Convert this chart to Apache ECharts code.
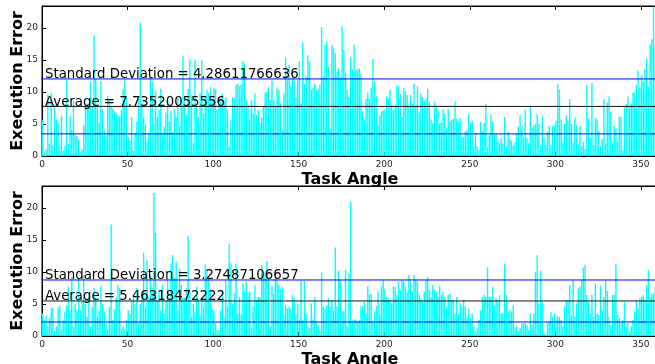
<!DOCTYPE html>
<html>
<head>
<meta charset="utf-8">
<script src="https://cdn.jsdelivr.net/npm/echarts@6/dist/echarts.min.js"></script>
<style>
  html, body { margin: 0; padding: 0; background: #fff; }
  #main { width: 655px; height: 364px; }
</style>
</head>
<body>
<div id="main"></div>
<script>
// execution error per task angle (0..360 deg)
var topErr = [
  5.6, 0.5, 1.0, 9.6, 1.9, 9.8, 1.6, 8.0, 5.6, 5.2,
  0.9, 6.3, 0.8, 1.6, 11.8, 1.9, 6.2, 4.1, 8.6, 3.3,
  3.1, 2.6, 0.6, 1.0, 4.8, 7.8, 8.1, 7.6, 11.6, 7.7,
  18.8, 12.1, 7.9, 5.2, 11.7, 7.3, 4.0, 3.2, 9.4, 8.9,
  7.8, 7.4, 7.0, 6.7, 6.4, 6.2, 7.1, 10.5, 11.8, 9.3,
  3.0, 2.4, 6.1, 0.8, 3.5, 5.3, 9.0, 20.8, 8.2, 6.0,
  4.8, 2.2, 3.5, 12.1, 11.6, 5.0, 10.2, 6.1, 7.2, 10.5,
  3.5, 4.6, 6.8, 8.7, 5.3, 7.0, 3.7, 7.3, 6.1, 9.1,
  4.6, 8.0, 15.6, 8.7, 6.5, 10.5, 15.0, 9.5, 2.0, 15.0,
  7.7, 6.1, 9.8, 15.0, 6.6, 9.2, 10.3, 9.8, 10.7, 8.7,
  10.7, 10.5, 7.2, 9.2, 8.7, 9.7, 8.6, 9.2, 7.2, 1.5,
  5.6, 9.2, 9.0, 11.1, 11.3, 10.9, 11.1, 14.8, 14.4, 8.8,
  7.9, 5.7, 8.7, 6.6, 9.7, 6.4, 7.2, 5.2, 6.0, 7.7,
  9.9, 10.0, 10.7, 8.7, 11.8, 8.7, 7.7, 10.7, 10.3, 8.2,
  4.0, 9.8, 15.4, 11.8, 14.2, 10.9, 12.4, 11.8, 9.2, 11.8,
  14.8, 8.2, 17.7, 11.3, 12.4, 15.7, 14.7, 10.3, 10.7, 11.3,
  10.3, 10.5, 11.1, 20.1, 12.4, 17.3, 17.8, 13.9, 4.2, 17.3,
  16.8, 16.0, 13.1, 13.7, 12.4, 20.2, 16.6, 13.0, 10.3, 9.2,
  15.5, 13.5, 17.4, 13.4, 13.5, 13.7, 12.8, 7.0, 5.7, 8.9,
  9.9, 8.9, 10.6, 15.1, 11.6, 9.3, 4.8, 6.3, 7.0, 7.1,
  7.2, 9.3, 9.0, 10.3, 8.0, 7.2, 8.0, 10.9, 10.9, 9.7,
  6.1, 10.6, 10.1, 9.5, 7.8, 9.5, 8.2, 11.3, 7.8, 10.9,
  6.8, 9.7, 9.2, 8.6, 9.0, 10.5, 8.4, 5.7, 5.2, 8.4,
  8.0, 7.1, 5.1, 5.2, 7.3, 6.6, 4.3, 7.3, 5.3, 5.6,
  5.8, 8.5, 5.8, 5.5, 5.9, 3.0, 2.9, 3.9, 4.0, 6.5,
  5.2, 5.5, 1.5, 3.6, 1.5, 0.9, 5.3, 3.9, 5.2, 8.1,
  1.5, 3.2, 6.5, 5.3, 3.4, 3.4, 2.2, 2.0, 2.8, 2.0,
  6.1, 1.5, 3.8, 2.6, 2.4, 1.6, 2.2, 3.5, 4.6, 6.4,
  4.7, 3.0, 7.2, 2.8, 2.0, 7.8, 4.4, 4.8, 5.0, 6.5,
  5.0, 1.6, 6.3, 2.9, 1.7, 3.8, 4.7, 1.7, 4.7, 4.8,
  5.5, 11.2, 10.4, 5.7, 2.2, 5.0, 6.4, 5.5, 8.9, 5.0,
  2.1, 6.0, 4.8, 1.8, 4.7, 1.5, 2.2, 1.1, 11.0, 5.9,
  2.9, 11.4, 1.7, 5.9, 5.7, 3.9, 1.5, 2.6, 8.8, 1.9,
  8.3, 9.3, 6.9, 2.2, 4.7, 4.3, 2.2, 6.1, 6.2, 0.9,
  7.6, 8.1, 9.3, 7.6, 8.2, 9.9, 9.8, 11.1, 13.3, 10.7,
  12.6, 11.6, 13.6, 15.2, 10.8, 17.4, 18.2, 23.3, 16.8, 14.5,
  12.0
];
var bottomErr = [
  3.6, 2.5, 3.2, 1.5, 2.8, 4.3, 4.4, 0.8, 1.5, 4.4,
  4.7, 1.0, 2.4, 3.7, 4.8, 7.7, 4.0, 9.2, 1.5, 5.0,
  4.0, 9.0, 4.0, 5.5, 9.5, 5.0, 3.0, 6.5, 1.5, 4.5,
  7.5, 6.0, 3.0, 4.0, 7.8, 5.0, 3.8, 2.0, 1.0, 4.5,
  17.4, 2.5, 4.2, 6.0, 8.0, 7.5, 1.0, 1.5, 1.0, 2.5,
  4.0, 3.5, 5.5, 6.0, 5.0, 7.5, 2.0, 5.0, 6.5, 13.0,
  4.5, 11.8, 6.0, 9.5, 7.5, 22.3, 16.1, 5.5, 7.0, 4.0,
  8.0, 3.5, 5.5, 9.0, 6.0, 11.3, 12.6, 9.0, 11.6, 4.0,
  10.5, 8.0, 6.0, 6.0, 7.5, 15.6, 7.0, 3.0, 5.0, 3.8,
  7.7, 5.6, 3.2, 6.1, 4.5, 11.2, 10.5, 9.2, 7.2, 4.3,
  4.0, 2.0, 0.9, 0.9, 4.0, 7.2, 3.0, 8.7, 4.6, 14.3,
  11.3, 5.1, 6.6, 11.3, 3.5, 6.1, 3.3, 8.2, 7.1, 8.5,
  6.6, 6.9, 1.2, 4.6, 7.9, 5.6, 6.1, 6.1, 11.1, 9.5,
  9.9, 11.7, 9.1, 1.5, 7.8, 6.6, 9.2, 8.7, 7.9, 7.4,
  7.7, 3.3, 4.8, 4.3, 4.6, 4.3, 6.4, 5.9, 3.3, 5.0,
  2.5, 8.6, 2.5, 8.6, 3.5, 1.5, 1.2, 5.1, 2.5, 6.1,
  2.2, 1.7, 0.9, 9.9, 4.6, 4.3, 4.8, 5.9, 4.6, 5.6,
  4.0, 13.8, 4.6, 10.2, 8.7, 3.8, 3.9, 10.3, 1.5, 9.8,
  20.9, 2.5, 2.6, 2.5, 2.2, 2.5, 4.6, 4.7, 5.3, 3.5,
  7.8, 6.5, 6.5, 2.2, 3.8, 4.7, 6.9, 3.3, 7.8, 8.7,
  7.4, 6.1, 5.9, 5.6, 5.1, 7.7, 7.6, 6.4, 8.5, 7.2,
  8.7, 8.5, 7.7, 6.7, 9.5, 8.5, 6.9, 9.5, 8.7, 8.5,
  6.4, 5.9, 5.3, 6.9, 8.7, 9.2, 7.2, 6.1, 7.9, 7.2,
  6.9, 6.1, 7.8, 6.4, 6.9, 6.1, 4.6, 6.4, 6.6, 5.6,
  5.6, 3.5, 6.1, 3.5, 5.1, 4.6, 5.6, 4.6, 3.0, 4.3,
  2.8, 3.5, 1.5, 0.7, 1.2, 2.5, 4.0, 6.1, 6.4, 6.1,
  10.7, 6.1, 6.1, 7.7, 4.8, 5.9, 5.6, 6.4, 3.5, 3.5,
  11.3, 6.4, 3.8, 4.0, 3.8, 4.8, 1.2, 1.5, 0.7, 1.2,
  2.0, 2.0, 2.0, 1.7, 0.9, 3.5, 1.7, 3.5, 10.0, 12.6,
  5.1, 10.2, 5.3, 0.4, 0.2, 2.0, 2.2, 3.8, 3.0, 3.5,
  2.5, 3.0, 3.0, 2.5, 1.5, 4.6, 5.6, 5.6, 7.9, 3.3,
  8.7, 3.0, 5.1, 7.4, 7.7, 8.7, 10.7, 11.1, 6.4, 5.3,
  3.5, 6.4, 3.0, 8.2, 3.5, 3.3, 7.9, 4.0, 6.1, 8.8,
  7.0, 3.0, 1.7, 6.4, 6.4, 11.2, 3.3, 2.8, 2.0, 2.5,
  5.3, 1.5, 2.0, 0.7, 1.5, 2.5, 3.8, 5.6, 4.3, 5.9,
  6.1, 6.4, 5.6, 7.9, 10.3, 6.1, 6.6, 6.6, 7.7, 10.3,
  8.0
];
var angles = topErr.map(function (v, i) { return i; });
var xTicks = [0, 50, 100, 150, 200, 250, 300, 350];
var yTicks = [0, 5, 10, 15, 20];

// stats printed on the figure
var topAvg = 7.73520055556, topStd = 4.28611766636;
var bottomAvg = 5.46318472222, bottomStd = 3.27487106657;

var FONT = 'DejaVu Sans';
var myChart = echarts.init(document.getElementById('main'), null, { renderer: 'canvas' });

function xAxisFor(grid, pos, labels) {
  return {
    type: 'value', gridIndex: grid, position: pos,
    min: 0, max: 360, interval: 50,
    name: labels ? 'Task Angle' : '',
    nameLocation: 'middle', nameGap: 16, nameMoveOverlap: false,
    nameTextStyle: { fontFamily: FONT, fontSize: 16, fontWeight: 'bold', color: '#000' },
    axisLine: { show: true, lineStyle: { color: '#000', width: 1 } },
    axisTick: { show: true, inside: true, length: 4, lineStyle: { color: '#000' } },
    axisLabel: {
      show: labels, fontFamily: FONT, fontSize: 9, color: '#222', margin: 4,
      showMaxLabel: false,
      formatter: function (v) { return xTicks.indexOf(v) >= 0 ? String(v) : ''; }
    },
    splitLine: { show: false }
  };
}
function yAxisFor(grid) {
  return {
    type: 'value', gridIndex: grid,
    min: 0, max: 23.4, interval: 5,
    name: 'Execution Error',
    nameLocation: 'middle', nameGap: 16, nameRotate: 90, nameMoveOverlap: false,
    nameTextStyle: { fontFamily: FONT, fontSize: 16, fontWeight: 'bold', color: '#000' },
    axisLine: { show: true, lineStyle: { color: '#000', width: 1 } },
    axisTick: { show: true, inside: true, length: 4, lineStyle: { color: '#000' } },
    axisLabel: {
      fontFamily: FONT, fontSize: 9, color: '#222', margin: 4,
      showMaxLabel: false,
      formatter: function (v) { return yTicks.indexOf(v) >= 0 ? String(v) : ''; }
    },
    splitLine: { show: false }
  };
}
// a horizontal stat line across the whole angle range, text sitting on its left end
function hLine(idx, y, color, text) {
  var first = { value: [angles[0], y] };
  if (text) {
    first.label = {
      show: true, position: 'top', align: 'left', distance: 0, offset: [3, 3],
      formatter: text, fontFamily: FONT, fontSize: 13.3, color: '#000'
    };
  }
  return {
    type: 'line', xAxisIndex: idx, yAxisIndex: idx,
    symbol: 'circle', symbolSize: 1, showSymbol: true, silent: true, z: 3,
    itemStyle: { color: color },
    lineStyle: { color: color, width: 1, type: 'solid' },
    label: { show: false },
    data: [first, [angles[angles.length - 1], y]]
  };
}
function barsFor(idx, values) {
  return {
    type: 'bar', xAxisIndex: idx, yAxisIndex: idx,
    barWidth: 1.4,
    itemStyle: { color: '#00ffff' },
    data: values.map(function (v, i) { return [angles[i] + 0.4, v]; })
  };
}

var option = {
  animation: false,
  textStyle: { fontFamily: FONT },
  grid: [
    { left: 42, top: 6, width: 616, height: 150, outerBoundsMode: 'none', containLabel: false,
      show: true, borderColor: '#000', borderWidth: 1 },
    { left: 42, top: 186, width: 616, height: 150, outerBoundsMode: 'none', containLabel: false,
      show: true, borderColor: '#000', borderWidth: 1 }
  ],
  xAxis: [xAxisFor(0, 'bottom', true), xAxisFor(1, 'bottom', true), xAxisFor(0, 'top', false), xAxisFor(1, 'top', false)],
  yAxis: [yAxisFor(0), yAxisFor(1)],
  series: [
    barsFor(0, topErr),
    hLine(0, topAvg - topStd, '#0000ff'),
    hLine(0, topAvg, '#111111', 'Average = ' + topAvg),
    hLine(0, topAvg + topStd, '#0000ff', 'Standard Deviation = ' + topStd),
    barsFor(1, bottomErr),
    hLine(1, bottomAvg - bottomStd, '#0000ff'),
    hLine(1, bottomAvg, '#111111', 'Average = ' + bottomAvg),
    hLine(1, bottomAvg + bottomStd, '#0000ff', 'Standard Deviation = ' + bottomStd)
  ]
};
myChart.setOption(option);
</script>
</body>
</html>
